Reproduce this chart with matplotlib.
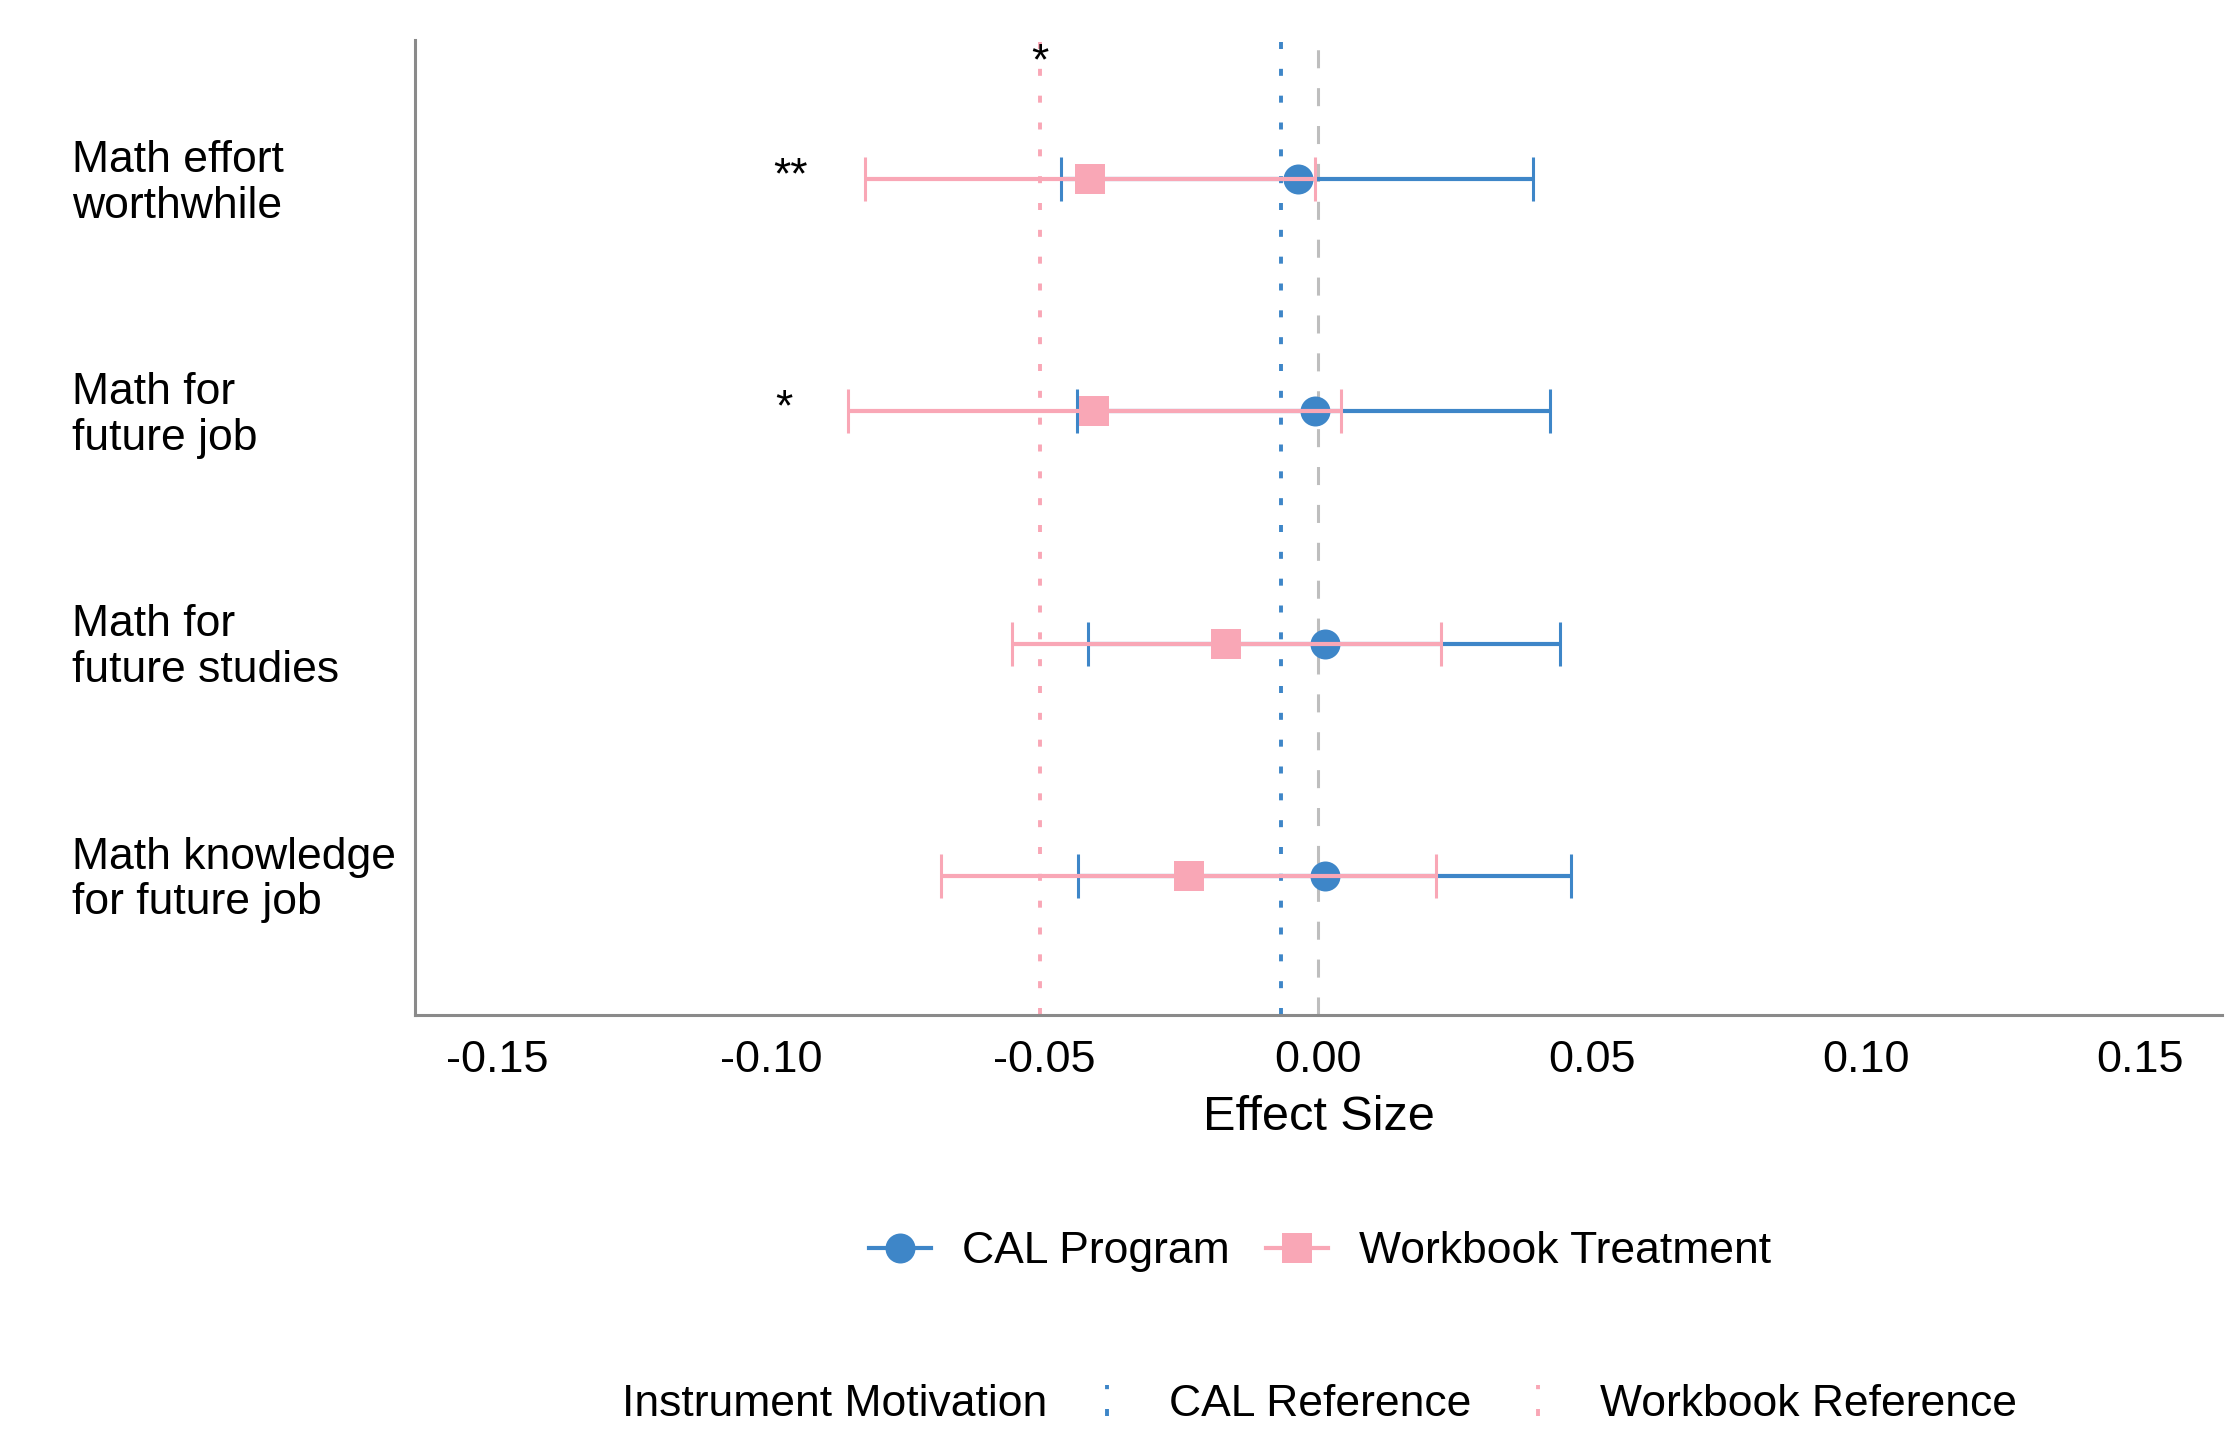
import numpy as np
import matplotlib
matplotlib.use("Agg")
import matplotlib.pyplot as plt
from matplotlib.lines import Line2D
from matplotlib.legend_handler import HandlerLine2D
from matplotlib.transforms import blended_transform_factory

# outcomes, top to bottom
outcomes = ["Math effort\nworthwhile", "Math for\nfuture job",
            "Math for\nfuture studies", "Math knowledge\nfor future job"]

cal_est = [-0.0038, -0.0007, 0.0012, 0.0012]
cal_lo = [-0.0470, -0.0441, -0.0420, -0.0439]
cal_hi = [0.0391, 0.0423, 0.0442, 0.0462]

wb_est = [-0.0418, -0.0409, -0.0168, -0.0237]
wb_lo = [-0.0829, -0.0859, -0.0560, -0.0690]
wb_hi = [-0.0007, 0.0042, 0.0223, 0.0214]

# significance stars for the workbook estimates
wb_stars = ["**", "*", "", ""]
star_x = [-0.0965, -0.0976, 0, 0]

cal_ref = -0.0068
wb_ref = -0.0508
ref_star = "*"

xticks = [-0.15, -0.10, -0.05, 0.00, 0.05, 0.10, 0.15]

blue = "#3E86C8"
pink = "#F9A7B6"
grey = "#BEBEBE"

plt.rcParams["font.family"] = ["Liberation Sans", "DejaVu Sans"]


class HandlerVLine(HandlerLine2D):
    # vertical key like a geom_vline legend
    def create_artists(self, legend, orig_handle, xdescent, ydescent,
                       width, height, fontsize, trans):
        x = width / 2 - xdescent
        line = Line2D([x, x], [-ydescent, height - ydescent])
        self.update_prop(line, orig_handle, legend)
        line.set_transform(trans)
        return [line]


fig = plt.figure(figsize=(11.13, 7.16), dpi=200)
ax = fig.add_axes([0.1864, 0.2912, 0.8118, 0.6808])

y = np.arange(len(outcomes))[::-1] + 1

ax.axvline(0, color=grey, lw=1.1, linestyle=(0, (5.9, 6.5)), zorder=1)
ax.axvline(cal_ref, color=blue, lw=1.4, linestyle=(0, (1.8, 5.1)), zorder=1)
ax.axvline(wb_ref, color=pink, lw=1.4, linestyle=(0, (1.8, 5.1)), zorder=1)

ce = np.array(cal_est)
ax.errorbar(ce, y, xerr=[ce - np.array(cal_lo), np.array(cal_hi) - ce],
            fmt='none', ecolor=blue, elinewidth=1.5,
            capsize=8, capthick=1.1, zorder=2)
ax.plot(ce, y, 'o', color=blue, ms=10.8, mew=0, zorder=3)
we = np.array(wb_est)
ax.errorbar(we, y, xerr=[we - np.array(wb_lo), np.array(wb_hi) - we],
            fmt='none', ecolor=pink, elinewidth=1.5,
            capsize=8, capthick=1.1, zorder=4)
ax.plot(we, y, 's', color=pink, ms=10.8, mew=0, zorder=5)

for i in range(len(outcomes)):
    if wb_stars[i]:
        ax.text(star_x[i], y[i] + 0.01, wb_stars[i], ha='center',
                va='center', fontsize=16)
ax.text(wb_ref, 4.50, ref_star, ha='center', va='center', fontsize=16)

ax.set_xlim(-0.165, 0.165)
ax.set_ylim(0.4, 4.6)
ax.set_xticks(xticks)
ax.set_xticklabels([f"{v:.2f}" for v in xticks], fontsize=16.2)
ax.set_yticks([])
ax.tick_params(axis='x', length=0, pad=9)
ax.set_xlabel("Effect Size", fontsize=17.5, labelpad=5)

trans = blended_transform_factory(fig.transFigure, ax.transData)
for yi, lab in zip(y, outcomes):
    ax.text(0.0323, yi - 0.018, lab, transform=trans, ha='left',
            va='center', fontsize=16, linespacing=1.15)

for s in ['top', 'right']:
    ax.spines[s].set_visible(False)
for s in ['left', 'bottom']:
    ax.spines[s].set_color('#8A8A8A')
    ax.spines[s].set_linewidth(1.1)

h_cal = Line2D([], [], color=blue, lw=1.5, marker='o', ms=10.8, mew=0)
h_wb = Line2D([], [], color=pink, lw=1.5, marker='s', ms=10.8, mew=0)
fig.legend([h_cal, h_wb], ["CAL Program", "Workbook Treatment"],
           loc='center', bbox_to_anchor=(0.593, 0.126), ncol=2,
           frameon=False, fontsize=16, handlelength=1.4,
           handletextpad=0.7, columnspacing=0.8)

h_calref = Line2D([], [], color=blue, lw=1.4, linestyle=(0, (1.8, 5.1)))
h_wbref = Line2D([], [], color=pink, lw=1.4, linestyle=(0, (1.8, 5.1)))
fig.legend([h_calref, h_wbref], ["CAL Reference", "Workbook Reference"],
           handler_map={h_calref: HandlerVLine(), h_wbref: HandlerVLine()},
           loc='center', bbox_to_anchor=(0.6947, 0.019), ncol=2,
           frameon=False, fontsize=16, handlelength=1.4, borderpad=0,
           handletextpad=0.7, columnspacing=0.8)
fig.text(0.2794, 0.019, "Instrument Motivation", ha='left', va='center',
         fontsize=16)

fig.savefig("out.png", dpi=200)
